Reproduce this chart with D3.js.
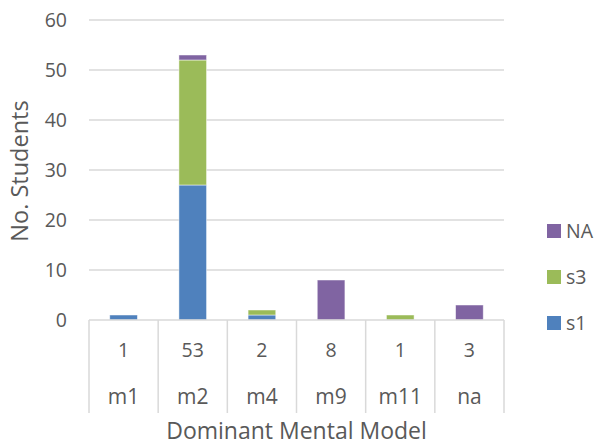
<!DOCTYPE html>
<html>
<head>
<meta charset="utf-8">
<script src="https://cdn.jsdelivr.net/npm/d3@7/dist/d3.min.js"></script>
<style>
  html, body { margin: 0; padding: 0; background: #fff; }
  svg { display: block; font-family: "Open Sans", sans-serif; }
</style>
</head>
<body>
<svg id="chart" width="596" height="446"></svg>
<script>
// Students per dominant mental model, split by group
const categories = ["m1", "m2", "m4", "m9", "m11", "na"];
const s1 = [1, 27, 1, 0, 0, 0];
const s3 = [0, 25, 1, 0, 1, 0];
const naSeries = [0, 1, 0, 8, 0, 3];
const seriesNames = ["s1", "s3", "NA"];
const seriesColors = ["#4F81BD", "#9BBB59", "#8064A2"];
const yTicks = [0, 10, 20, 30, 40, 50, 60];

const rows = categories.map((c, i) => ({ cat: c, s1: s1[i], s3: s3[i], NA: naSeries[i] }));
const totals = rows.map(r => r.s1 + r.s3 + r.NA);

const svg = d3.select("#chart");
const margin = { left: 89, right: 504, top: 20, bottom: 320 };
const fontFamily = "'Open Sans', sans-serif";

const x = d3.scaleBand().domain(categories).range([margin.left, margin.right]).paddingInner(0).paddingOuter(0);
const y = d3.scaleLinear().domain([0, 60]).range([margin.bottom, margin.top]);

const textColor = "#595959";
const gridColor = "#D9D9D9";

// Horizontal gridlines
svg.append("g").selectAll("line").data(yTicks.filter(t => t > 0)).join("line")
  .attr("x1", margin.left).attr("x2", margin.right)
  .attr("y1", d => y(d)).attr("y2", d => y(d))
  .attr("stroke", gridColor).attr("stroke-width", 1.3);

// Y axis tick labels
const yAxis = d3.axisLeft(y).tickValues(yTicks).tickSize(0).tickPadding(0);
const gy = svg.append("g").attr("transform", `translate(${67},0)`).call(yAxis);
gy.select(".domain").remove();
gy.selectAll("text").attr("font-size", 19.5).attr("fill", textColor)
  .attr("font-family", fontFamily);

// Stacked bars
const stack = d3.stack().keys(seriesNames);
const stacked = stack(rows);
const barW = x.bandwidth() * 0.4;
svg.append("g").selectAll("g").data(stacked).join("g")
  .attr("fill", (d, i) => seriesColors[i])
  .selectAll("rect").data(d => d.filter(p => p[1] - p[0] > 0)).join("rect")
  .attr("x", d => x(d.data.cat) + (x.bandwidth() - barW) / 2)
  .attr("width", barW)
  .attr("y", d => y(d[1]))
  .attr("height", d => y(d[0]) - y(d[1]))
  .attr("stroke", "#ffffff").attr("stroke-opacity", 0.6).attr("stroke-width", 0.8);

// Data table under the axis: totals row and category row
const tableBottom = 413;
svg.append("line")
  .attr("x1", margin.left).attr("x2", margin.right)
  .attr("y1", margin.bottom).attr("y2", margin.bottom)
  .attr("stroke", gridColor).attr("stroke-width", 1.5);
const edges = categories.map(c => x(c)).concat([margin.right]);
svg.append("g").selectAll("line").data(edges).join("line")
  .attr("x1", d => d).attr("x2", d => d)
  .attr("y1", margin.bottom).attr("y2", tableBottom)
  .attr("stroke", gridColor).attr("stroke-width", 1.5);

svg.append("g").selectAll("text").data(categories).join("text")
  .attr("x", d => x(d) + x.bandwidth() / 2)
  .attr("y", 357)
  .attr("text-anchor", "middle")
  .attr("font-size", 19.5).attr("fill", textColor)
  .text((d, i) => totals[i]);

svg.append("g").selectAll("text").data(categories).join("text")
  .attr("x", d => x(d) + x.bandwidth() / 2)
  .attr("y", 404)
  .attr("text-anchor", "middle")
  .attr("font-size", 21).attr("fill", textColor)
  .text(d => d);

// Axis titles
svg.append("text")
  .attr("x", (margin.left + margin.right) / 2).attr("y", 439)
  .attr("text-anchor", "middle")
  .attr("font-size", 23).attr("fill", textColor)
  .text("Dominant Mental Model");

svg.append("text")
  .attr("transform", "translate(28,171) rotate(-90)")
  .attr("text-anchor", "middle")
  .attr("font-size", 23.5).attr("fill", textColor)
  .text("No. Students");

// Legend (top to bottom: NA, s3, s1)
const legendItems = seriesNames.map((n, i) => ({ name: n, color: seriesColors[i] })).reverse();
const lg = svg.append("g").selectAll("g").data(legendItems).join("g")
  .attr("transform", (d, i) => `translate(547,${224 + i * 46})`);
lg.append("rect").attr("width", 14).attr("height", 14).attr("fill", d => d.color);
lg.append("text").attr("x", 19).attr("y", 14)
  .attr("font-size", 19.5).attr("fill", textColor)
  .text(d => d.name);
</script>
</body>
</html>
